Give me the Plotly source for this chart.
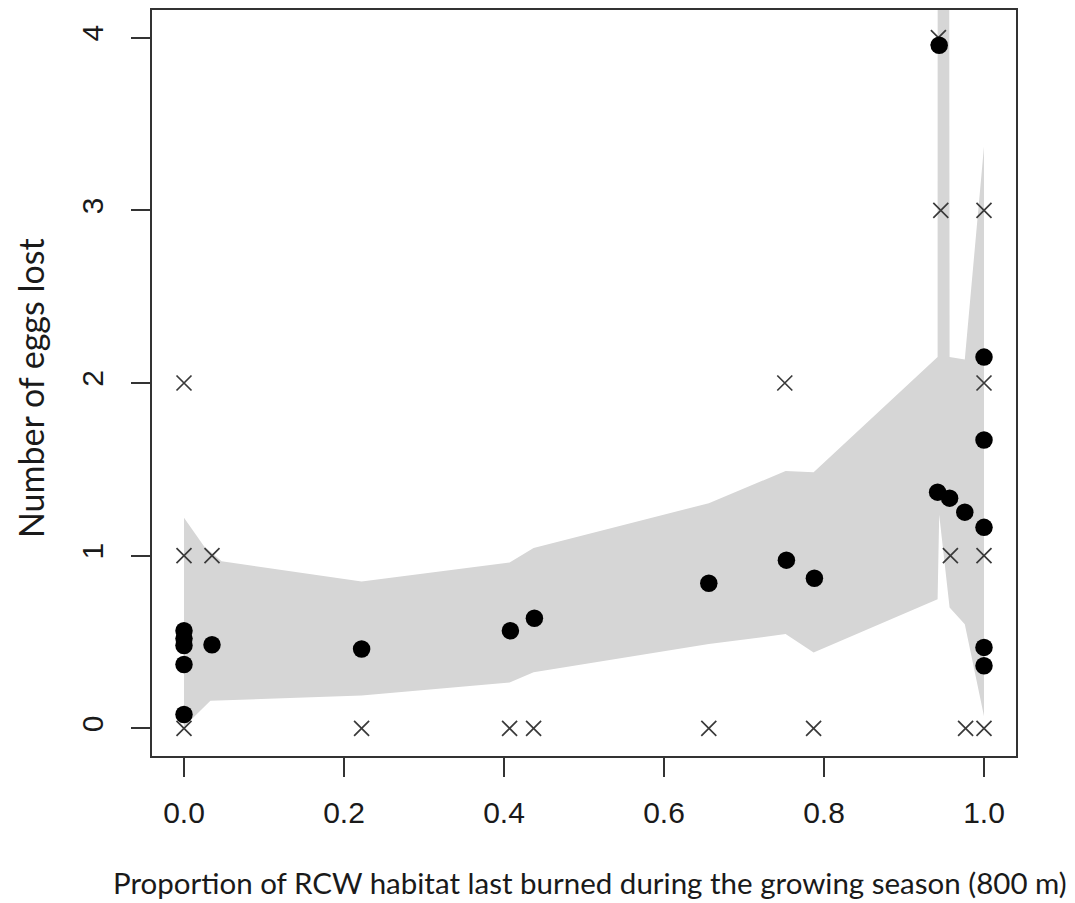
import plotly.graph_objects as go

# Observed data (crosses)
obs_x = [0.0, 0.0, 0.0, 0.035, 0.222, 0.407, 0.437, 0.656, 0.751, 0.787,
         0.943, 0.946, 0.958, 0.977, 1.0, 1.0, 1.0, 1.0]
obs_y = [2, 1, 0, 1, 0, 0, 0, 0, 2, 0,
         4, 3, 1, 0, 0, 1, 2, 3]

# Model predictions (filled dots)
pred_x = [0.0, 0.0, 0.0, 0.0, 0.0, 0.035, 0.222, 0.408, 0.438, 0.656, 0.753, 0.788,
          0.942, 0.944, 0.957, 0.976, 1.0, 1.0, 1.0, 1.0, 1.0]
pred_y = [0.565, 0.52, 0.48, 0.37, 0.08, 0.484, 0.46, 0.565, 0.638, 0.84, 0.974, 0.869,
          1.368, 3.956, 1.333, 1.252, 2.15, 1.67, 1.164, 0.469, 0.363]

# Confidence band boundaries
upper_x = [0.0, 0.025, 0.047, 0.222, 0.407, 0.437, 0.656, 0.752, 0.787,
           0.942, 0.944, 0.957, 0.976, 1.0]
upper_y = [1.22, 1.055, 0.968, 0.85, 0.96, 1.045, 1.304, 1.49, 1.483,
           2.15, 60.0, 2.15, 2.136, 3.37]
lower_x = [0.0, 0.033, 0.222, 0.407, 0.437, 0.656, 0.752, 0.787,
           0.942, 0.944, 0.957, 0.976, 1.0]
lower_y = [0.01, 0.16, 0.19, 0.265, 0.325, 0.488, 0.546, 0.44,
           0.747, 1.237, 0.70, 0.603, 0.07]

x_ticks = [0.0, 0.2, 0.4, 0.6, 0.8, 1.0]
y_ticks = [0, 1, 2, 3, 4]

x_title = "Proportion of RCW habitat last burned during the growing season (800 m)"
y_title = "Number of eggs lost"

fig = go.Figure()

fig.add_trace(go.Scatter(
    x=upper_x + lower_x[::-1],
    y=upper_y + lower_y[::-1],
    fill="toself", fillcolor="#d6d6d6",
    line=dict(width=0, color="#d6d6d6"),
    mode="lines", hoverinfo="skip", showlegend=False,
))

fig.add_trace(go.Scatter(
    x=obs_x, y=obs_y, mode="markers",
    marker=dict(symbol="x-thin", size=15, line=dict(width=1.7, color="#3a3a3a"), color="#3a3a3a"),
    showlegend=False,
))

fig.add_trace(go.Scatter(
    x=pred_x, y=pred_y, mode="markers",
    marker=dict(symbol="circle", size=17.5, color="black", line=dict(width=0)),
    showlegend=False,
))

tick_font = dict(family="Liberation Sans, Arial, sans-serif", size=30, color="#1a1a1a")
xtitle_font = dict(family="Lato, sans-serif", size=29.5, color="#1a1a1a")
ytitle_font = dict(family="Lato, sans-serif", size=34, color="#1a1a1a")

fig.update_xaxes(
    range=[-0.04, 1.04], tickvals=x_ticks, ticktext=[f"{v:.1f}" for v in x_ticks],
    showline=True, mirror=True, linecolor="#333333", linewidth=2,
    ticks="outside", ticklen=19, tickwidth=2, tickcolor="#333333",
    showgrid=False, zeroline=False, tickfont=tick_font, ticklabelstandoff=10,
)
fig.update_yaxes(
    range=[-0.16, 4.16], tickvals=y_ticks, ticktext=[str(v) for v in y_ticks],
    showline=True, mirror=True, linecolor="#333333", linewidth=2,
    ticks="outside", ticklen=19, tickwidth=2, tickcolor="#333333",
    showgrid=False, zeroline=False, tickfont=tick_font, tickangle=-90, ticklabelstandoff=16,
)

fig.add_annotation(text=x_title, xref="paper", yref="paper", x=0.507, y=-0.1696,
                   xanchor="center", yanchor="middle", showarrow=False, font=xtitle_font)
fig.add_annotation(text=y_title, xref="paper", yref="paper", x=-0.140, y=0.4933,
                   xanchor="center", yanchor="middle", showarrow=False, font=ytitle_font,
                   textangle=-90)

# the page adds an 8px body margin, so the figure is sized to fit the window
fig.update_layout(
    width=1067, height=895,
    margin=dict(l=144, r=59, t=0, b=147, pad=0),
    plot_bgcolor="white", paper_bgcolor="white",
    showlegend=False,
)

fig.write_html("out.html")
